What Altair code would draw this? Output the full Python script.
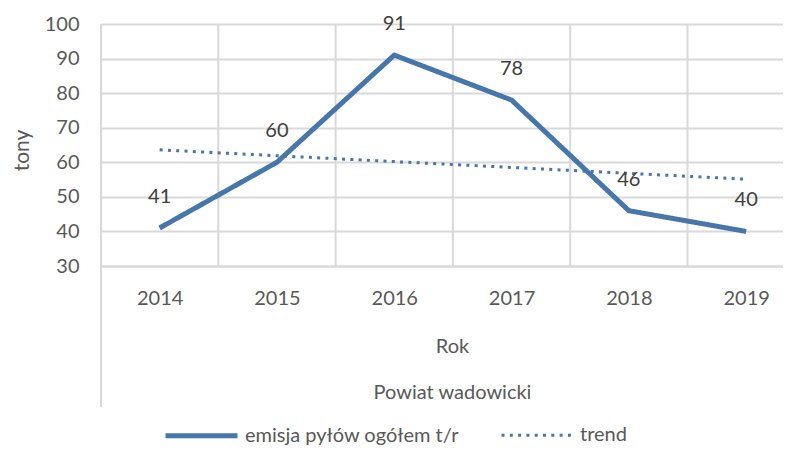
import altair as alt
import pandas as pd

years = [2014, 2015, 2016, 2017, 2018, 2019]
emisja = [41, 60, 91, 78, 46, 40]
trend = [63.6, 61.9, 60.2, 58.5, 56.8, 55.1]
series_names = ["emisja pyłów ogółem t/r", "trend"]
boundaries = [2014.5, 2015.5, 2016.5, 2017.5, 2018.5]
left_edge = [2013.5]
y_ticks = [30, 40, 50, 60, 70, 80, 90, 100]

BLUE = "#4676AA"
GRID = "#D9D9D9"
TXT = "#595959"
FONT = "Lato"

W, H = 682, 242
x_min = 2013.5
x_max = 2013.5 + W / 117.3

rows = []
for y, e, t in zip(years, emisja, trend):
    rows.append({"rok": y, "wartosc": e, "seria": series_names[0]})
    rows.append({"rok": y, "wartosc": t, "seria": series_names[1]})
df = pd.DataFrame(rows)
df_main = pd.DataFrame({"rok": years, "wartosc": emisja})

xscale = alt.Scale(domain=[x_min, x_max], nice=False, zero=False)
yscale = alt.Scale(domain=[30, 100], nice=False, zero=False)

x_axis = alt.Axis(
    values=years, format="d", grid=False, ticks=False, tickSize=0, domain=True,
    domainColor=GRID, domainWidth=2, labelFont=FONT, labelFontSize=20,
    labelColor=TXT, labelBaseline="middle", labelPadding=32, labelFlush=False,
    labelOverlap=False,
    title=["Rok", "Powiat wadowicki"], titleFont=FONT, titleFontSize=20,
    titleFontWeight="normal", titleColor=TXT, titleLineHeight=46,
    titleX=351, titleY=86, titleBaseline="alphabetic", titleAlign="center",
)
y_axis = alt.Axis(
    values=y_ticks, grid=True, gridColor=GRID, gridWidth=2, ticks=False,
    tickSize=0, domain=False, labelFont=FONT, labelFontSize=20, labelColor=TXT,
    labelPadding=22, labelOverlap=False, format="d",
    title="tony", titleFont=FONT, titleFontSize=21,
    titleFontWeight="normal", titleColor=TXT, titleX=-79, titleY=126,
    titleAngle=270, titleBaseline="middle", titleAlign="center",
)

X = alt.X("rok:Q", scale=xscale, axis=x_axis)
Y = alt.Y("wartosc:Q", scale=yscale, axis=y_axis)

grid_v = alt.Chart(pd.DataFrame({"rok": boundaries})).mark_rule(
    color=GRID, strokeWidth=2
).encode(x=X, y=alt.value(0), y2=alt.value(H))

left_line = alt.Chart(pd.DataFrame({"rok": left_edge})).mark_rule(
    color=GRID, strokeWidth=2
).encode(x=X, y=alt.value(0), y2=alt.value(383))

lines = alt.Chart(df).mark_line(strokeCap="butt", strokeJoin="round").encode(
    x=X,
    y=Y,
    color=alt.Color(
        "seria:N",
        scale=alt.Scale(domain=series_names, range=[BLUE, BLUE]),
        legend=alt.Legend(
            title=None, orient="none", direction="horizontal",
            legendX=62, legendY=373, symbolType="stroke", symbolSize=5184,
            labelFont=FONT, labelFontSize=20, labelColor=TXT, labelLimit=0,
            labelOffset=5, columnPadding=36, symbolStrokeColor=BLUE,
        ),
    ),
    strokeDash=alt.StrokeDash(
        "seria:N",
        scale=alt.Scale(domain=series_names, range=[[1, 0], [3, 5.3]]),
        legend=None,
    ),
    strokeWidth=alt.StrokeWidth(
        "seria:N",
        scale=alt.Scale(domain=series_names, range=[5, 3]),
        legend=None,
    ),
    detail="seria:N",
)

labels = alt.Chart(df_main).mark_text(
    font=FONT, fontSize=20, color="#404040", dy=-31, baseline="middle", align="center"
).encode(
    x=X,
    y=Y,
    text=alt.Text("wartosc:Q", format="d"),
)

chart = alt.layer(grid_v, left_line, lines, labels).properties(
    width=W, height=H,
    autosize=alt.AutoSizeParams(type="none"),
    padding={"left": 93, "top": 16, "right": 0, "bottom": 179},
    background="white",
).configure_view(stroke=None)

chart.save("out.html", embed_options={"renderer": "svg", "actions": False})
